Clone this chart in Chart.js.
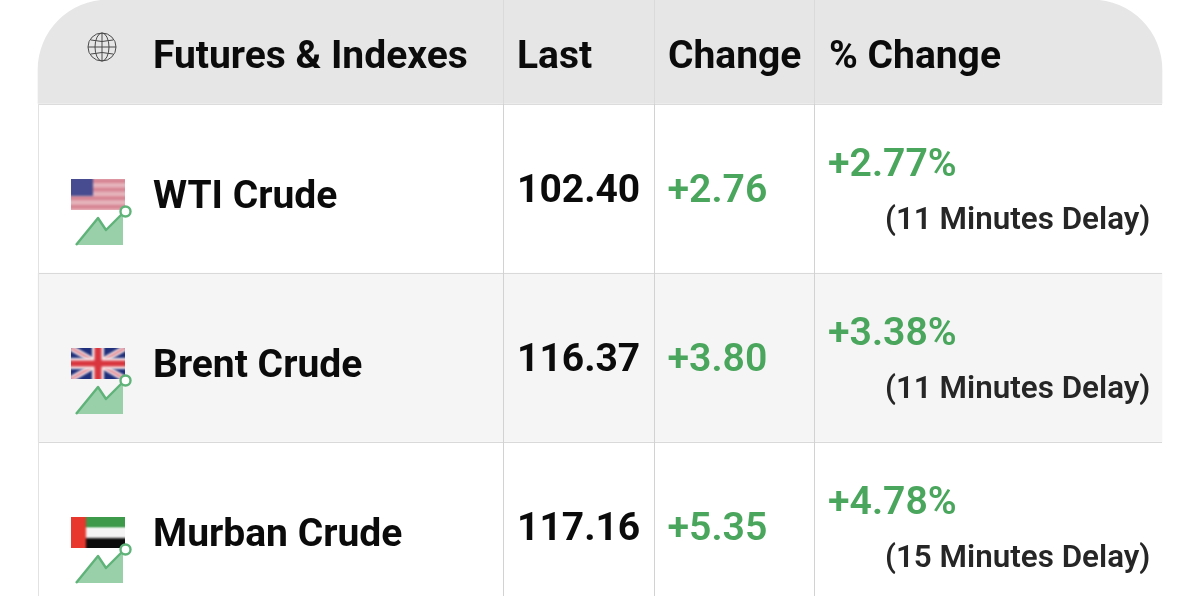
<!DOCTYPE html>
<html>
<head>
<meta charset="utf-8">
<style>
html, body { margin: 0; padding: 0; background: #fff; }
canvas { display: block; }
</style>
<script src="https://cdn.jsdelivr.net/npm/chart.js@4"></script>
</head>
<body>
<canvas id="myChart" width="1200" height="596"></canvas>
<script>
// table content
const headers = ['Futures & Indexes', 'Last', 'Change', '% Change'];
const names = ['WTI Crude', 'Brent Crude', 'Murban Crude'];
const flags = ['us', 'uk', 'uae'];
const lastValues = [102.40, 116.37, 117.16];
const changeValues = [2.76, 3.80, 5.35];
const percentValues = [2.77, 3.38, 4.78];
const delayMinutes = [11, 11, 15];

// table geometry, in axis units (1 unit = 1 px on this canvas)
const left = 38, right = 1162;
const colLines = [503.5, 654.5, 814.5];
const headerH = 104, rowH = 169;
const rowTop = i => headerH + i * rowH;

const GREEN = '#4ba65d';
const BLACK = '#0b0b0b';

function line(ctx, x1, y1, x2, y2, color) {
    ctx.strokeStyle = color;
    ctx.lineWidth = 1;
    ctx.beginPath();
    ctx.moveTo(x1, y1);
    ctx.lineTo(x2, y2);
    ctx.stroke();
}

function drawGlobe(ctx, cx, cy) {
    const r = 14;
    ctx.save();
    ctx.strokeStyle = '#4a4a4a';
    ctx.lineWidth = 1;
    ctx.beginPath();
    ctx.arc(cx, cy, r, 0, Math.PI * 2);
    ctx.moveTo(cx, cy - r);
    ctx.lineTo(cx, cy + r);
    ctx.moveTo(cx - r, cy);
    ctx.lineTo(cx + r, cy);
    ctx.moveTo(cx + 7, cy);
    ctx.ellipse(cx, cy, 7, r, 0, 0, Math.PI * 2);
    ctx.moveTo(cx - 11, cy - 7);
    ctx.quadraticCurveTo(cx, cy - 4, cx + 11, cy - 7);
    ctx.moveTo(cx - 11, cy + 7);
    ctx.quadraticCurveTo(cx, cy + 4, cx + 11, cy + 7);
    ctx.stroke();
    ctx.restore();
}

function drawFlag(ctx, kind, x, y) {
    const w = 54, h = 31;
    ctx.save();
    ctx.beginPath();
    ctx.rect(x, y, w, h);
    ctx.clip();
    ctx.filter = 'blur(0.9px)';
    if (kind === 'us') {
        ctx.fillStyle = '#e6b4bc';
        ctx.fillRect(x - 3, y - 3, w + 6, h + 6);
        ctx.fillStyle = '#d68593';
        for (let i = 0; i < 4; i++) ctx.fillRect(x - 3, y + i * 8.6, w + 6, 4);
        ctx.fillStyle = '#474b8f';
        ctx.fillRect(x - 3, y - 3, 25, 20);
    } else if (kind === 'uk') {
        ctx.fillStyle = '#1f2f7c';
        ctx.fillRect(x - 3, y - 3, w + 6, h + 6);
        ctx.lineWidth = 6;
        ctx.strokeStyle = '#f3e4e6';
        ctx.beginPath();
        ctx.moveTo(x, y);
        ctx.lineTo(x + w, y + h);
        ctx.moveTo(x + w, y);
        ctx.lineTo(x, y + h);
        ctx.stroke();
        ctx.lineWidth = 2;
        ctx.strokeStyle = '#e0707c';
        ctx.stroke();
        ctx.fillStyle = '#f7eeee';
        ctx.fillRect(x + 21, y - 3, 12, h + 6);
        ctx.fillRect(x - 3, y + 10, w + 6, 11);
        ctx.fillStyle = '#d8353f';
        ctx.fillRect(x + 23.5, y - 3, 7, h + 6);
        ctx.fillRect(x - 3, y + 12.5, w + 6, 6);
    } else {
        ctx.fillStyle = '#3d9a4b';
        ctx.fillRect(x - 3, y - 3, w + 6, 14);
        ctx.fillStyle = '#f4f4f4';
        ctx.fillRect(x - 3, y + 11, w + 6, 10);
        ctx.fillStyle = '#0c0c0c';
        ctx.fillRect(x - 3, y + 21, w + 6, 13);
        ctx.fillStyle = '#e8372c';
        ctx.fillRect(x - 3, y - 3, 18, h + 6);
    }
    ctx.restore();
}

function drawTrend(ctx, x, y) {
    // x, y = top left of the flag above it
    ctx.save();
    ctx.fillStyle = '#99d0aa';
    ctx.strokeStyle = '#5fb379';
    ctx.lineWidth = 2.4;
    ctx.lineJoin = 'round';
    ctx.beginPath();
    ctx.moveTo(x + 5, y + 66);
    ctx.lineTo(x + 27, y + 39);
    ctx.lineTo(x + 35, y + 51);
    ctx.lineTo(x + 52, y + 34);
    ctx.lineTo(x + 52, y + 66);
    ctx.closePath();
    ctx.fill();
    ctx.beginPath();
    ctx.moveTo(x + 5, y + 66);
    ctx.lineTo(x + 27, y + 39);
    ctx.lineTo(x + 35, y + 51);
    ctx.lineTo(x + 51, y + 35);
    ctx.stroke();
    ctx.fillStyle = '#fff';
    ctx.beginPath();
    ctx.arc(x + 54.5, y + 32.5, 5, 0, Math.PI * 2);
    ctx.fill();
    ctx.stroke();
    ctx.restore();
}

// rules, icons and cell text, all placed through the chart's scales
const tablePlugin = {
    id: 'tablePlugin',
    afterDatasetsDraw(chart) {
        const ctx = chart.ctx;
        const X = v => chart.scales.x.getPixelForValue(v);
        const Y = v => chart.scales.y.getPixelForValue(v);
        const bottom = chart.scales.y.max;

        ctx.save();
        // horizontal rules
        line(ctx, X(left), Y(headerH) + 0.5, X(right), Y(headerH) + 0.5, '#dcdcdc');
        names.forEach((n, i) => line(ctx, X(left), Y(rowTop(i + 1)) + 0.5, X(right), Y(rowTop(i + 1)) + 0.5, '#d9d9d9'));
        // vertical rules
        colLines.forEach(c => {
            line(ctx, X(c), Y(0), X(c), Y(headerH), '#dadada');
            line(ctx, X(c), Y(headerH), X(c), Y(bottom), '#d2d2d2');
        });
        line(ctx, X(left) + 0.5, Y(headerH), X(left) + 0.5, Y(bottom), '#e2e2e2');

        // header
        ctx.textBaseline = 'alphabetic';
        ctx.textAlign = 'left';
        ctx.fillStyle = BLACK;
        ctx.font = '700 39px Roboto';
        const headX = [153, 517, 668, 829];
        headers.forEach((h, i) => ctx.fillText(h, X(headX[i]), Y(67.5)));
        drawGlobe(ctx, X(102), Y(47));

        // rows
        names.forEach((n, i) => {
            const top = rowTop(i);
            drawFlag(ctx, flags[i], X(71), Y(top + 75));
            drawTrend(ctx, X(71), Y(top + 75));

            ctx.fillStyle = BLACK;
            ctx.font = '700 39px Roboto';
            ctx.fillText(n, X(153), Y(top + 103.5));
            ctx.fillText(lastValues[i].toFixed(2), X(517), Y(top + 98));

            ctx.fillStyle = GREEN;
            ctx.font = '600 39.2px Roboto';
            ctx.fillText('+' + changeValues[i].toFixed(2), X(667.5), Y(top + 98));
            ctx.fillText('+' + percentValues[i].toFixed(2) + '%', X(828), Y(top + 72));

            ctx.fillStyle = '#262626';
            ctx.font = '600 31.4px Roboto';
            ctx.fillText('(' + delayMinutes[i] + ' Minutes Delay)', X(885), Y(top + 124.5));
        });
        ctx.restore();
    }
};

const ctx = document.getElementById('myChart').getContext('2d');
const myChart = new Chart(ctx, {
    type: 'bar',
    data: {
        datasets: [
            {
                // row bands, every second one shaded
                label: 'Rows',
                // first band is 1 wider so it fully hides the tall header bar underneath
                data: names.map((n, i) => ({ x: i === 0 ? [left - 1, right + 1] : [left, right], y: rowTop(i) + rowH / 2 })),
                backgroundColor: names.map((n, i) => (i % 2 ? '#f5f5f5' : '#ffffff')),
                barThickness: rowH,
                order: 1
            },
            {
                // taller than the header so the corner radius is not clamped, the first row covers the rest
                label: 'Header',
                data: [{ x: [left, right], y: 70 }],
                backgroundColor: '#e6e6e6',
                barThickness: 140,
                borderRadius: { topLeft: 70, topRight: 70, bottomLeft: 0, bottomRight: 0 },
                borderSkipped: false,
                order: 2
            }
        ]
    },
    options: {
        indexAxis: 'y',
        responsive: false,
        animation: false,
        grouped: false,
        layout: { padding: 0 },
        plugins: { legend: { display: false }, tooltip: { enabled: false } },
        scales: {
            x: { type: 'linear', min: 0, max: 1200, display: false },
            y: { type: 'linear', min: 0, max: 596, reverse: true, offset: false, display: false }
        }
    },
    plugins: [tablePlugin]
});
</script>
</body>
</html>
